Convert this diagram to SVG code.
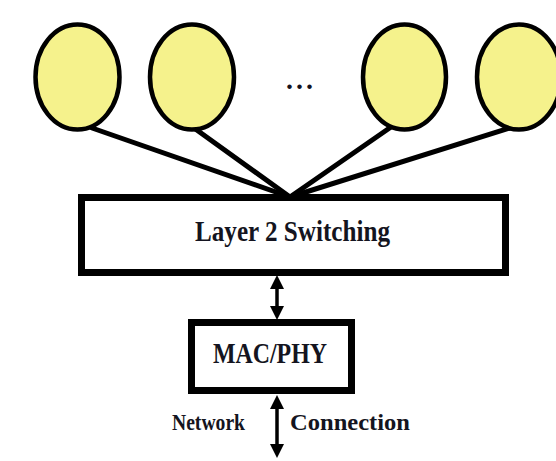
<svg xmlns="http://www.w3.org/2000/svg" width="556" height="461" viewBox="0 0 556 461">
  <style>
    .host { fill: #f5f28c; stroke: #000; stroke-width: 4.5; }
    .box { fill: #fff; stroke: #000; stroke-width: 7; }
    .link { stroke: #000; stroke-width: 5; stroke-linecap: round; fill: none; }
    .bus { stroke: #000; stroke-width: 3.5; fill: none; }
    .label { font-family: "Liberation Serif", "Times New Roman", serif; font-weight: bold; fill: #141420; }
  </style>
  <defs>
    <marker id="head" viewBox="0 0 14 14" refX="10" refY="7" markerWidth="14" markerHeight="14" markerUnits="userSpaceOnUse" orient="auto-start-reverse">
      <path d="M0,0 L14,7 L0,14 z" fill="#000"/>
    </marker>
  </defs>
  <rect width="556" height="461" fill="#fff"/>

  <!-- links from stations to the switch, drawn under the nodes -->
  <g id="connectors">
    <line class="link" x1="92" y1="128" x2="290" y2="197"/>
    <line class="link" x1="194" y1="128" x2="290" y2="197"/>
    <line class="link" x1="391" y1="127" x2="290" y2="197"/>
    <line class="link" x1="510" y1="128" x2="290" y2="197"/>
    <line class="bus" x1="277" y1="279" x2="277" y2="316" marker-start="url(#head)" marker-end="url(#head)"/>
    <line class="bus" x1="277" y1="399" x2="277" y2="454" marker-start="url(#head)" marker-end="url(#head)"/>
  </g>

  <g id="station1"><ellipse class="host" cx="77.5" cy="77" rx="42" ry="52.5"/></g>
  <g id="station2"><ellipse class="host" cx="192" cy="77" rx="42" ry="52.5"/></g>
  <g id="ellipsis"><text class="label" x="286" y="88.5" font-size="28" letter-spacing="3">...</text></g>
  <g id="station3"><ellipse class="host" cx="404.5" cy="77" rx="41.5" ry="52.5"/></g>
  <g id="station4"><ellipse class="host" cx="519" cy="77" rx="42" ry="52.5"/></g>

  <g id="switching">
    <rect class="box" x="81.5" y="197.5" width="424" height="75"/>
    <text class="label" x="195" y="241" font-size="29" textLength="195" lengthAdjust="spacingAndGlyphs">Layer 2 Switching</text>
  </g>

  <g id="macphy">
    <rect class="box" x="191.5" y="322.5" width="160" height="68"/>
    <text class="label" x="213" y="363" font-size="30" textLength="114" lengthAdjust="spacingAndGlyphs">MAC/PHY</text>
  </g>

  <g id="network-label">
    <text class="label" x="172" y="430" font-size="23.5" textLength="73" lengthAdjust="spacingAndGlyphs">Network</text>
    <text class="label" x="290" y="430" font-size="23.5" textLength="120" lengthAdjust="spacingAndGlyphs">Connection</text>
  </g>
</svg>
